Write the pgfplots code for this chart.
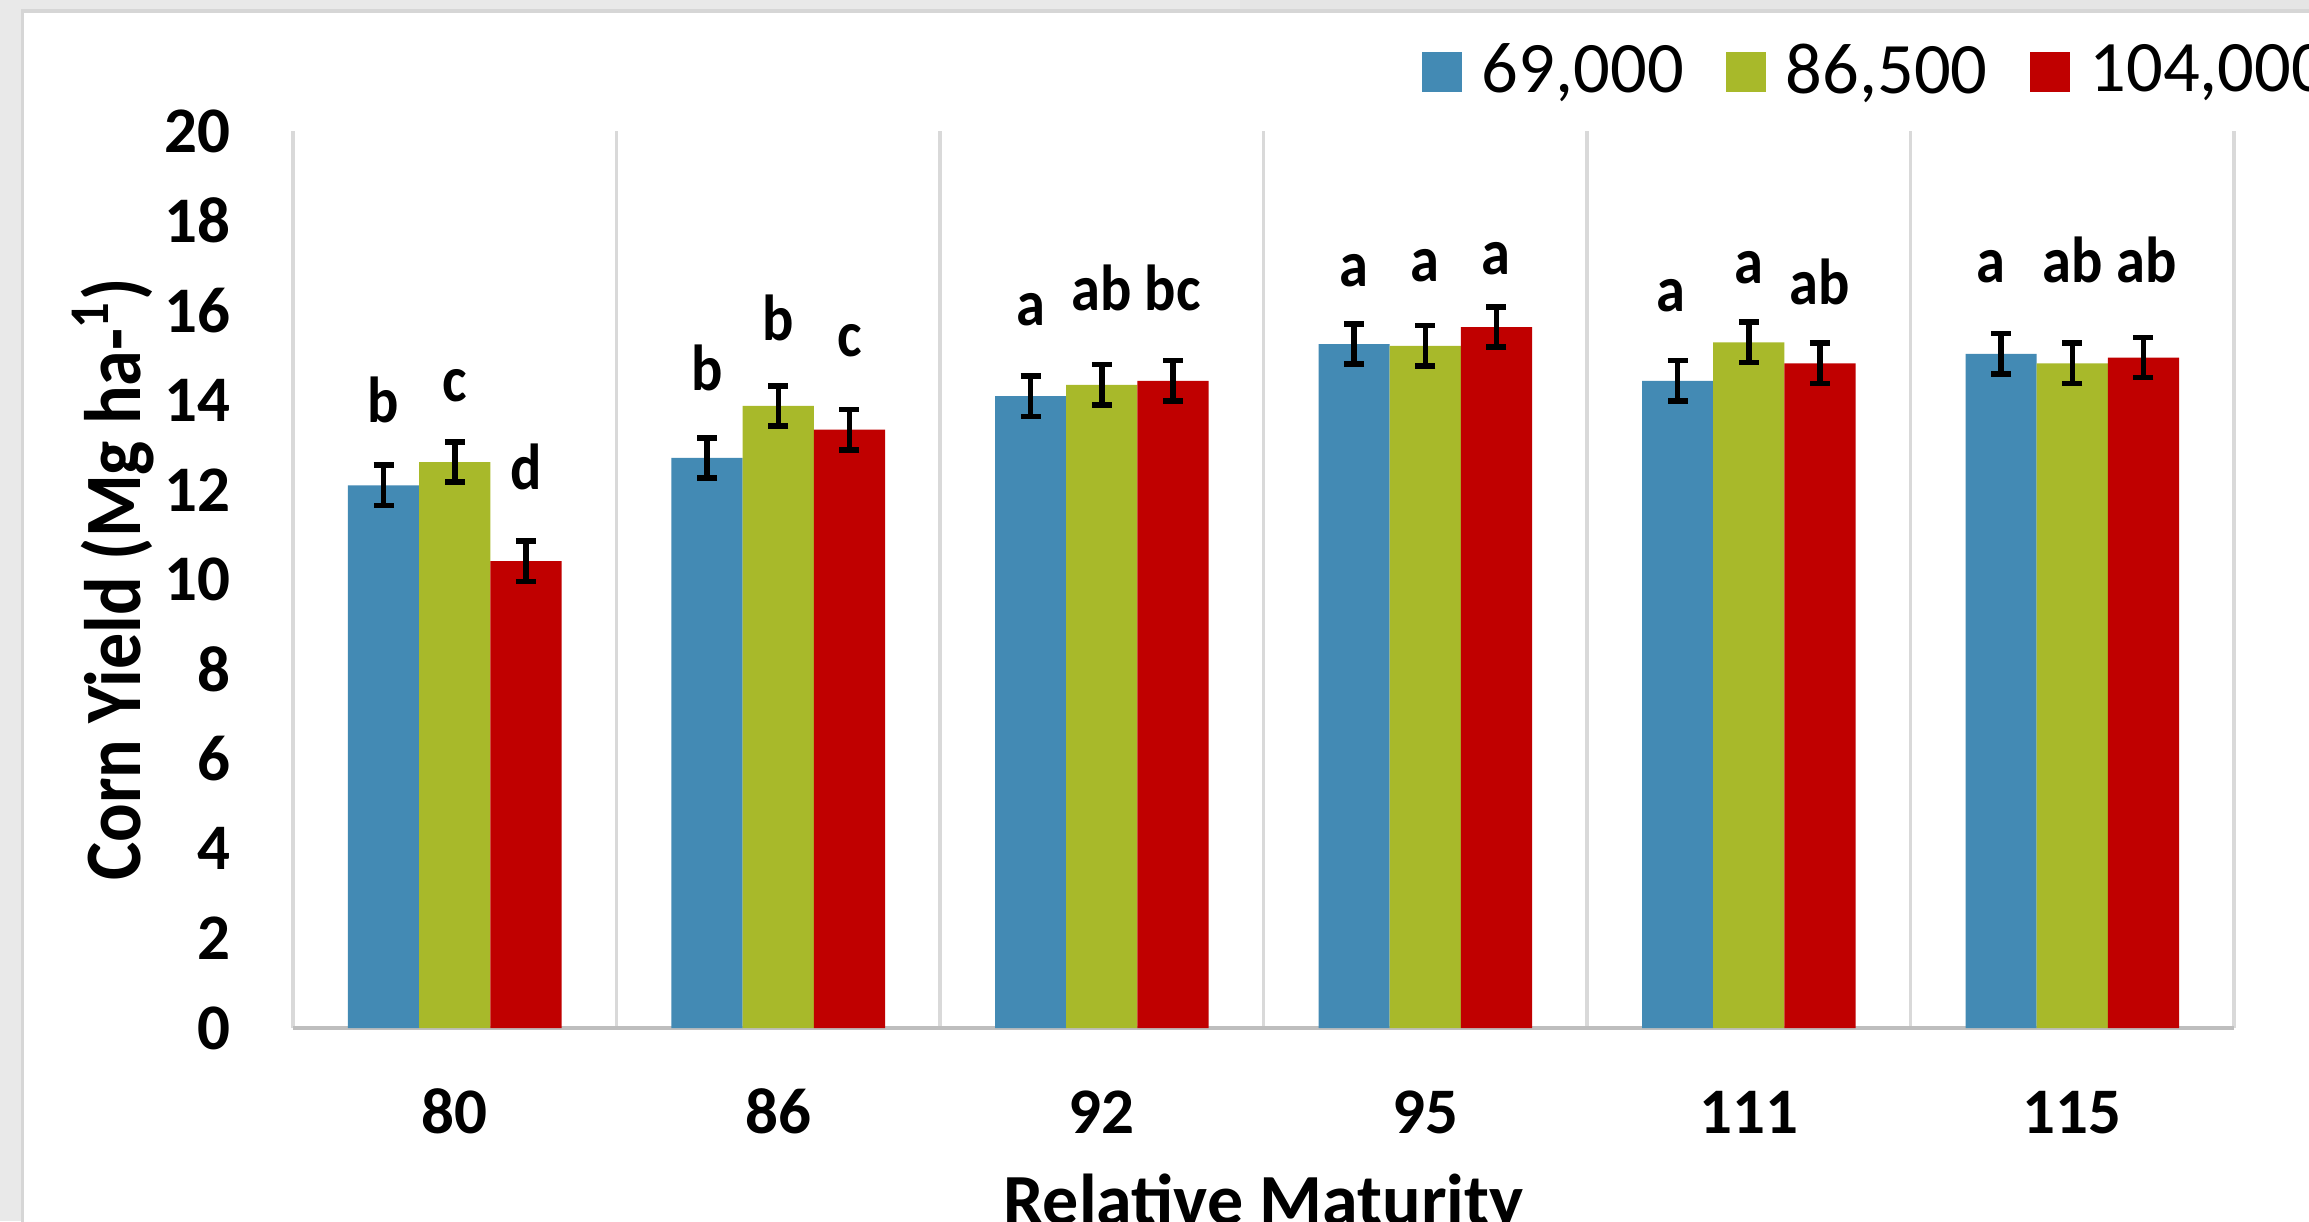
\documentclass[border=0pt]{standalone}
\usepackage{pgfplots}
\usepackage{pgfplotstable}
\pgfplotsset{compat=1.18}
\usepackage{fontspec}
\setmainfont{Carlito}

\definecolor{popA}{RGB}{67,138,180}
\definecolor{popB}{RGB}{168,185,42}
\definecolor{popC}{RGB}{192,0,0}
\definecolor{pagegrey}{RGB}{233,233,233}
\definecolor{stripgrey}{RGB}{229,229,229}
\definecolor{edgegrey}{RGB}{214,214,214}
\definecolor{sepgrey}{RGB}{217,217,217}
\definecolor{basegrey}{RGB}{190,190,190}

% Corn yield (Mg/ha) by relative maturity; groups centred at 0..5
% (80, 86, 92, 95, 111, 115), each bar 0.22 wide, bars side by side
\pgfplotstableread{
x y e
-0.22 12.10 0.45
0.78 12.71 0.45
1.78 14.09 0.45
2.78 15.25 0.45
3.78 14.43 0.45
4.78 15.03 0.45
}\popLow
\pgfplotstableread{
x y e
0 12.62 0.45
1 13.87 0.45
2 14.34 0.45
3 15.21 0.45
4 15.29 0.45
5 14.82 0.45
}\popMid
\pgfplotstableread{
x y e
0.22 10.41 0.45
1.22 13.34 0.45
2.22 14.43 0.45
3.22 15.63 0.45
4.22 14.82 0.45
5.22 14.95 0.45
}\popHigh
% mean separation letters (baseline position above each bar)
\pgfplotstableread{
x y lab
-0.22 13.49 b
0.00 13.96 c
0.22 12.00 d
0.78 14.22 b
1.00 15.34 b
1.22 14.97 c
1.78 15.66 a
2.00 16.00 ab
2.22 16.00 bc
2.78 16.54 a
3.00 16.65 a
3.22 16.80 a
3.76 15.98 a
4.00 16.60 a
4.22 16.14 ab
4.75 16.63 a
5.00 16.63 ab
5.23 16.63 ab
}\letters

\pgfplotsset{
  yieldbar/.style={
    ybar, bar width=0.22, bar shift=0, draw=none, fill=#1,
    legend image code/.code={\fill[##1] (0pt,-4pt) rectangle (8pt,4pt);},
    error bars/y dir=both, error bars/y explicit,
    error bars/error bar style={black, line width=1.1pt},
    error bars/error mark options={rotate=90, black, line width=1.1pt, mark size=2pt},
  },
}

\begin{document}
\begin{tikzpicture}
\path[use as bounding box] (0,0) rectangle (461.8pt,244.2pt);
\clip (0,0) rectangle (461.8pt,244.2pt);
% slide background and chart panel
\fill[pagegrey] (0,0) rectangle (461.8pt,244.2pt);
\fill[stripgrey] (248pt,241.6pt) rectangle (461.8pt,244.2pt);
\fill[white] (4.8pt,-1pt) rectangle (470pt,241.6pt);
\draw[edgegrey, line width=0.7pt] (4.45pt,-1pt) -- (4.45pt,241.95pt) -- (470pt,241.95pt);

\begin{axis}[
  at={(58.6pt,38.6pt)}, anchor=south west,
  scale only axis, width=388.2pt, height=179.4pt,
  xmin=-0.5, xmax=5.5, ymin=0, ymax=20,
  xtick={0,...,5}, xticklabels={80,86,92,95,111,115},
  ytick={0,2,...,20},
  minor xtick={-0.5,0.5,...,5.5},
  xminorgrids=true,
  minor grid style={draw=sepgrey, line width=0.7pt},
  major tick length=0pt, minor tick length=0pt,
  separate axis lines,
  axis x line*=bottom,
  x axis line style={draw=basegrey, line width=0.9pt, -},
  y axis line style={draw=none},
  /pgf/number format/assume math mode=true,
  yticklabel style={font=\bfseries\fontsize{13}{13}\selectfont, anchor=east, inner sep=0pt, xshift=-12.4pt},
  xticklabel style={font=\bfseries\fontsize{13}{13}\selectfont, anchor=base, inner sep=0pt, yshift=-21pt},
  xlabel={Relative Maturity},
  xlabel style={at={(axis description cs:0.5,0)}, anchor=base, yshift=-39.3pt, inner sep=0pt,
    font=\bfseries\fontsize{14.4}{14.4}\selectfont},
  ylabel={\scalebox{0.9}[1]{Corn Yield (Mg ha-\textsuperscript{1})}},
  ylabel style={at={(axis description cs:-0.0788,0.5)}, anchor=base, inner sep=0pt,
    font=\bfseries\fontsize{16}{16}\selectfont},
  legend columns=3,
  legend style={at={(axis description cs:0.5811,1.0658)}, anchor=west, draw=none, fill=none,
    inner sep=0pt, font=\fontsize{14.5}{14.5}\selectfont,
    nodes={inner sep=0pt},
    /tikz/every odd column/.append style={column sep=4pt},
    /tikz/every even column/.append style={column sep=8.4pt}},
]
\addplot[yieldbar=popA] table[x=x, y=y, y error=e] {\popLow};
\addlegendentry{69,000}
\addplot[yieldbar=popB] table[x=x, y=y, y error=e] {\popMid};
\addlegendentry{86,500}
\addplot[yieldbar=popC] table[x=x, y=y, y error=e] {\popHigh};
\addlegendentry{104,000}

\addplot[forget plot, draw=none, mark=none,
  nodes near coords={\scalebox{0.9}[1]{\pgfplotspointmeta}}, point meta=explicit symbolic,
  nodes near coords style={anchor=base, inner sep=0pt, font=\bfseries\fontsize{13}{13}\selectfont}]
  table[x=x, y=y, meta=lab] {\letters};
\end{axis}
\end{tikzpicture}
\end{document}
